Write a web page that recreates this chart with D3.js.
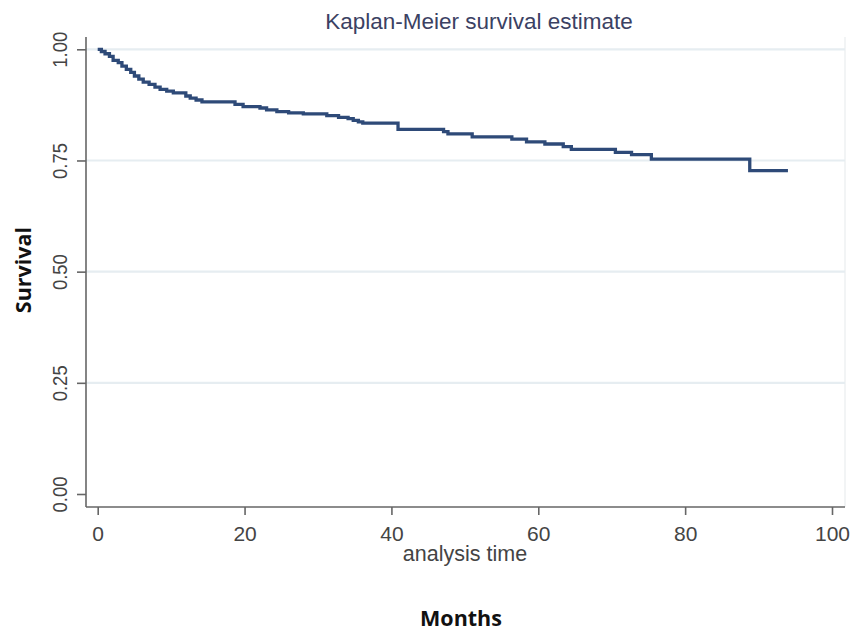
<!DOCTYPE html>
<html><head><meta charset="utf-8">
<script src="https://cdn.jsdelivr.net/npm/d3@7"></script>
<style>body{margin:0;background:#fff}svg{display:block}</style>
</head><body>
<svg id="c" width="862" height="632"></svg>
<script>
// Kaplan-Meier step data: time (months) and survival after that time
const times = [0,0.5,1.0,1.6,2.1,2.8,3.3,3.9,4.5,5.0,5.6,6.2,7.0,7.8,8.5,9.4,10.3,12.0,12.6,13.4,14.2,18.7,19.8,22.1,23.0,24.4,26.0,28.0,31.2,32.8,34.1,34.8,35.5,36.1,40.9,47.1,47.7,51.0,56.4,58.4,60.9,63.4,64.5,70.5,72.7,75.4,88.8];
const survival = [1.000,0.995,0.990,0.984,0.975,0.970,0.962,0.955,0.948,0.940,0.933,0.926,0.921,0.915,0.910,0.906,0.902,0.895,0.890,0.886,0.882,0.876,0.871,0.868,0.864,0.860,0.857,0.855,0.851,0.847,0.844,0.840,0.837,0.834,0.820,0.815,0.810,0.803,0.798,0.792,0.787,0.781,0.775,0.768,0.763,0.753,0.727];
const lastTime = 94.0;
const xTicks = [0,20,40,60,80,100];
const yTicks = [0,0.25,0.5,0.75,1.0];
const yTickLabels = ["0.00","0.25","0.50","0.75","1.00"];
const title = "Kaplan-Meier survival estimate";
const xTitle = "analysis time";
const xOuterTitle = "Months";
const yTitle = "Survival";

const svg = d3.select("#c");
const plot = {left:86, right:845, top:37, bottom:507};
const x = d3.scaleLinear().domain([0,100]).range([97.7,832]);
const y = d3.scaleLinear().domain([0,1]).range([494,49.3]);

// right border of plot region
svg.append("line").attr("x1",plot.right).attr("x2",plot.right).attr("y1",plot.top).attr("y2",plot.bottom)
  .attr("stroke","#eef0f2").attr("stroke-width",1.5);

// gridlines
svg.append("g").selectAll("line").data(yTicks.filter(d=>d>0)).join("line")
  .attr("x1",plot.left).attr("x2",plot.right)
  .attr("y1",d=>y(d)).attr("y2",d=>y(d))
  .attr("stroke","#e6edf1").attr("stroke-width",2.2);

// axes
const gx = svg.append("g").attr("transform",`translate(0,${plot.bottom})`)
  .call(d3.axisBottom(x).tickValues(xTicks).tickSize(8).tickPadding(10).tickSizeOuter(0));
gx.select(".domain").attr("d",`M${plot.left},0H${plot.right}`);
const gy = svg.append("g").attr("transform",`translate(${plot.left},0)`)
  .call(d3.axisLeft(y).tickValues(yTicks).tickSize(9).tickSizeOuter(0).tickFormat((d,i)=>yTickLabels[i]));
gy.select(".domain").attr("d",`M0,${plot.top}V${plot.bottom}`);
[gx,gy].forEach(g=>{
  g.select(".domain").attr("stroke","#666").attr("stroke-width",1.6);
  g.selectAll(".tick line").attr("stroke","#666").attr("stroke-width",1.6);
  g.selectAll("text").attr("fill","#444").attr("font-family","Liberation Sans, Arial, sans-serif").attr("font-size",21);
});
gx.selectAll("text").attr("dy",null).attr("y",34);
gy.selectAll("text")
  .attr("x",null).attr("dy",null).attr("text-anchor","middle")
  .attr("transform","translate(-19,0) rotate(-90) scale(0.88,1)")
  .attr("y",0);

// KM step curve
const pts = times.map((t,i)=>[t,survival[i]]);
pts.push([lastTime, survival[survival.length-1]]);
svg.append("path").datum(pts)
  .attr("fill","none").attr("stroke","#2e4a78").attr("stroke-width",3.3)
  .attr("stroke-linejoin","miter")
  .attr("d", d3.line().x(d=>x(d[0])).y(d=>y(d[1])).curve(d3.curveStepAfter));

// titles
svg.append("text").attr("x",479).attr("y",29).attr("text-anchor","middle")
  .attr("font-family","Liberation Sans, Arial, sans-serif").attr("font-size",22.5)
  .attr("fill","#3b4163").text(title);
svg.append("text").attr("x",465).attr("y",561).attr("text-anchor","middle")
  .attr("font-family","Liberation Sans, Arial, sans-serif").attr("font-size",21.5)
  .attr("fill","#444").text(xTitle);
svg.append("text").attr("x",461).attr("y",626).attr("text-anchor","middle")
  .attr("font-family","Open Sans, sans-serif").attr("font-weight","bold").attr("font-size",21.5)
  .attr("fill","#111").text(xOuterTitle);
svg.append("text").attr("transform","translate(31,270) rotate(-90)").attr("text-anchor","middle")
  .attr("font-family","Open Sans, sans-serif").attr("font-weight","bold").attr("font-size",21.5)
  .attr("fill","#111").text(yTitle);
</script>
</body></html>
